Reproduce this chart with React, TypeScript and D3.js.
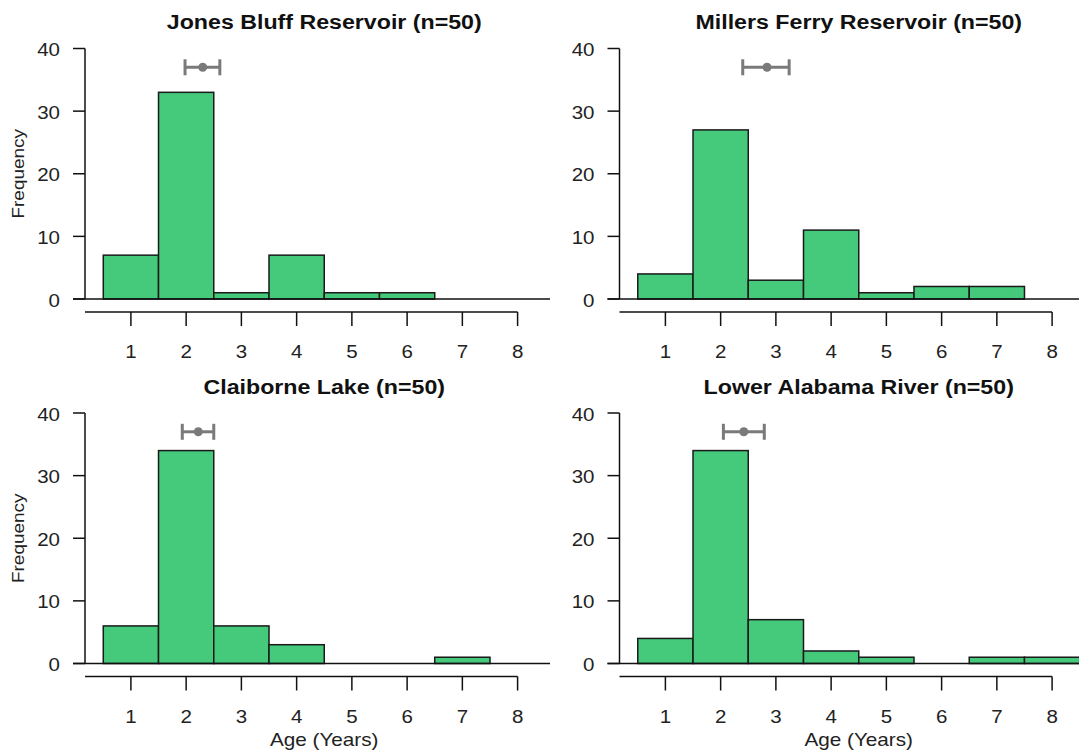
import React from 'react';
import { scaleLinear } from 'd3';

const width = 1079;
const height = 750;

// histogram data: fish counts per age class
const ages = [1, 2, 3, 4, 5, 6, 7, 8];
const jonesBluff = [7, 33, 1, 7, 1, 1, 0, 0];
const millersFerry = [4, 27, 3, 11, 1, 2, 2, 0];
const claiborneLake = [6, 34, 6, 3, 0, 0, 1, 0];
const lowerAlabama = [4, 34, 7, 2, 1, 0, 1, 1];

const titles = [
  'Jones Bluff Reservoir (n=50)',
  'Millers Ferry Reservoir (n=50)',
  'Claiborne Lake (n=50)',
  'Lower Alabama River (n=50)',
];

// mean age with interval (gray bar above the histogram)
const means = [2.3, 2.84, 2.22, 2.42];
const ciLow = [1.98, 2.4, 1.93, 2.05];
const ciHigh = [2.61, 3.24, 2.5, 2.79];
const meanLevel = 37;

const yTicks = [0, 10, 20, 30, 40];
const xTicks = [1, 2, 3, 4, 5, 6, 7, 8];

const counts = [jonesBluff, millersFerry, claiborneLake, lowerAlabama];

// panel placement
const offX = [0, 534.5, 0, 534.5];
const offY = [0, 0, 364.5, 364.5];
const rightEdge = [550, 1079, 550, 1079];

const x = scaleLinear().domain([1, 8]).range([130.9, 517.6]);
const y = scaleLinear().domain([0, 40]).range([299, 48.5]);

const axisX0 = 85;
const xAxisY = 312;

const fill = '#45c97b';
const gray = '#7a7a7a';
const font = '"Liberation Sans", Arial, sans-serif';

// glyphs in the picture are a bit wider than Arial, so stretch along the text
const T = ({ x, y, size, anchor = 'middle', bold = false, rotate = 0, sx = 1.15, children }: any) => (
  <text
    transform={`translate(${x},${y})${rotate ? ` rotate(${rotate})` : ''} scale(${sx},1)`}
    fontSize={size}
    fontFamily={font}
    fontWeight={bold ? 'bold' : 'normal'}
    textAnchor={anchor}
    fill={bold ? '#111' : '#222'}
  >
    {children}
  </text>
);

const Panel = ({ idx }: { idx: number }) => {
  const data = counts[idx];
  const left = idx % 2 === 0;
  const bottom = idx >= 2;
  const ym = y(meanLevel);
  return (
    <g transform={`translate(${offX[idx]},${offY[idx]})`}>
      <T x={x(4.5)} y={29} size={20} bold sx={1.16}>{titles[idx]}</T>

      {data.map((c, i) =>
        c > 0 ? (
          <rect
            key={i}
            x={x(ages[i] - 0.5)}
            width={x(ages[i] + 0.5) - x(ages[i] - 0.5)}
            y={y(c)}
            height={y(0) - y(c)}
            fill={fill}
            stroke="#1a1a1a"
            strokeWidth={1.5}
          />
        ) : null
      )}

      {/* zero line running across the panel */}
      <line x1={73} x2={rightEdge[idx] - offX[idx]} y1={y(0)} y2={y(0)} stroke="#111" strokeWidth={1.5} />

      {/* y axis */}
      <line x1={axisX0} x2={axisX0} y1={y(0)} y2={y(40)} stroke="#111" strokeWidth={1.5} />
      {yTicks.map(t => (
        <g key={t}>
          <line x1={73} x2={axisX0} y1={y(t)} y2={y(t)} stroke="#111" strokeWidth={1.5} />
          <T x={60} y={y(t) + 7.5} size={19} sx={1.08} anchor="end">{t}</T>
        </g>
      ))}

      {/* x axis */}
      <line x1={axisX0} x2={x(8)} y1={xAxisY} y2={xAxisY} stroke="#111" strokeWidth={1.5} />
      {xTicks.map(t => (
        <g key={t}>
          <line x1={x(t)} x2={x(t)} y1={xAxisY} y2={xAxisY + 14} stroke="#111" strokeWidth={1.5} />
          <T x={x(t)} y={358} size={19} sx={1.08}>{t}</T>
        </g>
      ))}

      {/* mean and interval */}
      <line x1={x(ciLow[idx])} x2={x(ciHigh[idx])} y1={ym} y2={ym} stroke={gray} strokeWidth={3} />
      <line x1={x(ciLow[idx])} x2={x(ciLow[idx])} y1={ym - 8} y2={ym + 8} stroke={gray} strokeWidth={3} />
      <line x1={x(ciHigh[idx])} x2={x(ciHigh[idx])} y1={ym - 8} y2={ym + 8} stroke={gray} strokeWidth={3} />
      <circle cx={x(means[idx])} cy={ym} r={4.5} fill={gray} />

      {left && (
        <T x={24} y={(y(0) + y(40)) / 2} size={16.5} rotate={-90}>Frequency</T>
      )}
      {bottom && <T x={x(4.5)} y={381.5} size={18}>Age (Years)</T>}
    </g>
  );
};

const App = () => (
  <svg
    width={width}
    height={height}
    style={{ position: 'absolute', left: 0, top: 0, background: '#fff' }}
  >
    <rect width={width} height={height} fill="#fff" />
    {[0, 1, 2, 3].map(i => (
      <Panel key={i} idx={i} />
    ))}
  </svg>
);

export default App;
